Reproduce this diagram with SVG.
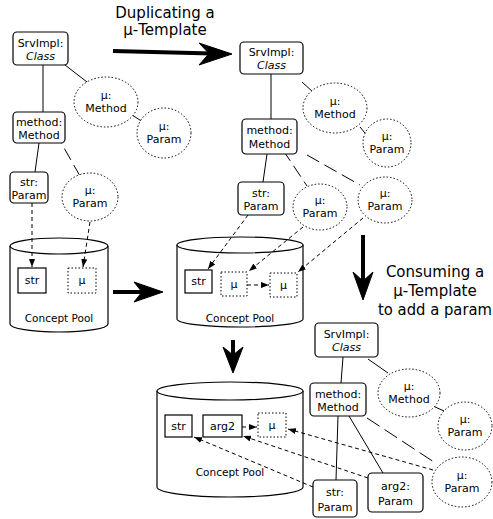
<svg xmlns="http://www.w3.org/2000/svg" width="493" height="519" viewBox="0 0 493 519">
<defs>
<style>
.bg{fill:#fff}
.box{fill:#fff;stroke:#000;stroke-width:1.2}
.dbox{fill:#fff;stroke:#000;stroke-width:1;stroke-dasharray:1.5 2}
.circ{fill:#fff;stroke:#000;stroke-width:1;stroke-dasharray:1.5 2}
.pool{fill:#fff;stroke:#000;stroke-width:1.2}
.t{font-family:"DejaVu Sans",sans-serif;font-size:11px;text-anchor:middle;fill:#000}
.it{font-style:italic}
.pt{font-family:"DejaVu Sans",sans-serif;font-size:10.5px;text-anchor:middle;fill:#000}
.title{font-family:"DejaVu Sans",sans-serif;font-size:15px;text-anchor:middle;fill:#000}
.ln{fill:none;stroke:#000;stroke-width:1}
.ld{fill:none;stroke:#000;stroke-width:1;stroke-dasharray:13 6}
.ar{fill:none;stroke:#000;stroke-width:1;stroke-dasharray:4 3;marker-end:url(#ah)}
.thick{fill:none;stroke:#000;stroke-width:4}
.head{fill:#000;stroke:#000;stroke-width:1;stroke-linejoin:round}
</style>
<marker id="ah" viewBox="0 0 8 6" refX="8" refY="3" markerWidth="8" markerHeight="6" markerUnits="userSpaceOnUse" orient="auto">
<path d="M0,0 L8,3 L0,6 Z" fill="#000"/>
</marker>
</defs>
<rect class="bg" x="0" y="0" width="493" height="519"/>

<!-- titles -->
<g id="label-duplicating">
<text class="title" x="165" y="18">Duplicating a</text>
<text class="title" x="165" y="35">μ-Template</text>
</g>
<g id="label-consuming">
<text class="title" x="435" y="277">Consuming a</text>
<text class="title" x="435" y="296">μ-Template</text>
<text class="title" x="435" y="315" textLength="114" lengthAdjust="spacingAndGlyphs">to add a param</text>
</g>

<!-- pools -->
<g id="p1-pool">
<path class="pool" d="M10,246 V324 A49,8 0 0 0 108,324 V246"/>
<ellipse class="pool" cx="59" cy="246" rx="49" ry="8"/>
<text class="pt" x="59" y="322">Concept Pool</text>
</g>
<g id="p2-pool">
<path class="pool" d="M177,245 V319 A63,8 0 0 0 303,319 V245"/>
<ellipse class="pool" cx="240" cy="245" rx="63" ry="8"/>
<text class="pt" x="240" y="322">Concept Pool</text>
</g>
<g id="p3-pool">
<path class="pool" d="M157,391 V487 A73,10 0 0 0 303,487 V391"/>
<ellipse class="pool" cx="230" cy="391" rx="73" ry="9"/>
<text class="pt" x="230" y="476">Concept Pool</text>
</g>

<!-- connectors -->
<g id="connectors">
<!-- panel 1 -->
<path class="ln" d="M43,65 V112"/>
<path class="ln" d="M65,65 L87,82"/>
<path class="ln" d="M132,115 L143,122"/>
<path class="ln" d="M39,143 L35,172"/>
<path class="ld" d="M55,132 L80,176"/>
<path class="ar" d="M32,203 V267"/>
<path class="ar" d="M90,222 L83,267"/>
<!-- panel 2 -->
<path class="ln" d="M271,74 V119"/>
<path class="ln" d="M302,82 L313,92"/>
<path class="ln" d="M360,127 L370,139"/>
<path class="ln" d="M267,154 L263,182"/>
<path class="ld" d="M283,150 L307,186"/>
<path class="ld" d="M307,155 L360,185" style="stroke-dasharray:14 6"/>
<path class="ar" d="M248,215 L208,269"/>
<path class="ar" d="M303,227 L249,271"/>
<path class="ar" d="M363,218 L298,272"/>
<path class="ar" d="M247,285 L269,285"/>
<!-- panel 3 -->
<path class="ln" d="M343,357 L341,383"/>
<path class="ln" d="M368,359 L388,373"/>
<path class="ln" d="M433,406 L444,411"/>
<path class="ln" d="M338,416 L336,480"/>
<path class="ln" d="M349,416 L383,473"/>
<path class="ld" d="M367,418 L437,464" style="stroke-dasharray:15 6"/>
<path class="ar" d="M433,470 L288,429"/>
<path class="ar" d="M368,478 L243,436"/>
<path class="ar" d="M313,487 L194,437"/>
<path class="ar" d="M242,427 L257,427"/>
</g>

<!-- transition arrows -->
<g id="transitions">
<path class="thick" d="M113,51 L212,53.5"/>
<path class="head" d="M232,54 L199,43 L209,53.5 L199,65 Z"/>
<path class="thick" d="M113,292 L145,292"/>
<path class="head" d="M163,292 L134,282 L142,292 L134,302 Z"/>
<path class="thick" d="M233,340 V360"/>
<path class="head" d="M233,373 L223,347 L233,355 L243,347 Z"/>
<path class="thick" d="M363,235 V285"/>
<path class="head" d="M363,300 L353,272 L363,281 L373,272 Z"/>
</g>

<!-- panel 1 nodes -->
<g id="p1-srvimpl"><rect class="box" x="13" y="32" width="55" height="33" rx="4"/><text class="t" x="40.5" y="47">SrvImpl:</text><text class="t it" x="40.5" y="60">Class</text></g>
<g id="p1-mu-method"><ellipse class="circ" cx="106" cy="102" rx="32" ry="25"/><text class="t" x="106" y="99">μ:</text><text class="t" x="106" y="112">Method</text></g>
<g id="p1-mu-param-a"><ellipse class="circ" cx="164" cy="133" rx="27" ry="25"/><text class="t" x="164" y="130">μ:</text><text class="t" x="164" y="143">Param</text></g>
<g id="p1-method"><rect class="box" x="13" y="112" width="52" height="31" rx="4"/><text class="t" x="39" y="126">method:</text><text class="t" x="39" y="139">Method</text></g>
<g id="p1-str-param"><rect class="box" x="10" y="172" width="38" height="31" rx="4"/><text class="t" x="29" y="186">str:</text><text class="t" x="29" y="199">Param</text></g>
<g id="p1-mu-param-b"><ellipse class="circ" cx="90" cy="197" rx="28" ry="24"/><text class="t" x="90" y="194">μ:</text><text class="t" x="90" y="207">Param</text></g>
<g id="p1-pool-str"><rect class="box" x="18" y="268" width="28" height="25"/><text class="t" x="32" y="284">str</text></g>
<g id="p1-pool-mu"><rect class="dbox" x="68" y="268" width="28" height="25"/><text class="t" x="82" y="284">μ</text></g>

<!-- panel 2 nodes -->
<g id="p2-srvimpl"><rect class="box" x="240" y="42" width="63" height="32" rx="4"/><text class="t" x="271.5" y="56">SrvImpl:</text><text class="t it" x="271.5" y="69">Class</text></g>
<g id="p2-mu-method"><ellipse class="circ" cx="335" cy="108" rx="32" ry="25"/><text class="t" x="335" y="105">μ:</text><text class="t" x="335" y="118">Method</text></g>
<g id="p2-mu-param-a"><ellipse class="circ" cx="387" cy="143" rx="24" ry="24"/><text class="t" x="387" y="140">μ:</text><text class="t" x="387" y="153">Param</text></g>
<g id="p2-method"><rect class="box" x="242" y="119" width="55" height="35" rx="4"/><text class="t" x="269.5" y="134">method:</text><text class="t" x="269.5" y="148">Method</text></g>
<g id="p2-str-param"><rect class="box" x="238" y="182" width="46" height="33" rx="4"/><text class="t" x="261" y="197">str:</text><text class="t" x="261" y="210">Param</text></g>
<g id="p2-mu-param-b"><ellipse class="circ" cx="320" cy="207" rx="27" ry="23"/><text class="t" x="320" y="204">μ:</text><text class="t" x="320" y="217">Param</text></g>
<g id="p2-mu-param-c"><ellipse class="circ" cx="385" cy="200" rx="27" ry="23"/><text class="t" x="385" y="197">μ:</text><text class="t" x="385" y="210">Param</text></g>
<g id="p2-pool-str"><rect class="box" x="185" y="270" width="27" height="23"/><text class="t" x="198.5" y="285">str</text></g>
<g id="p2-pool-mu-a"><rect class="dbox" x="221" y="272" width="26" height="24"/><text class="t" x="234" y="288">μ</text></g>
<g id="p2-pool-mu-b"><rect class="dbox" x="270" y="273" width="27" height="24"/><text class="t" x="283.5" y="289">μ</text></g>

<!-- panel 3 nodes -->
<g id="p3-srvimpl"><rect class="box" x="315" y="323" width="63" height="34" rx="4"/><text class="t" x="346.5" y="338">SrvImpl:</text><text class="t it" x="346.5" y="351">Class</text></g>
<g id="p3-mu-method"><ellipse class="circ" cx="409" cy="393" rx="31" ry="24"/><text class="t" x="409" y="390">μ:</text><text class="t" x="409" y="403">Method</text></g>
<g id="p3-mu-param-a"><ellipse class="circ" cx="465" cy="426" rx="27" ry="24"/><text class="t" x="465" y="423">μ:</text><text class="t" x="465" y="436">Param</text></g>
<g id="p3-method"><rect class="box" x="310" y="383" width="56" height="33" rx="4"/><text class="t" x="338" y="398">method:</text><text class="t" x="338" y="411">Method</text></g>
<g id="p3-str-param"><rect class="box" x="313" y="480" width="44" height="37" rx="4"/><text class="t" x="335" y="496">str:</text><text class="t" x="335" y="511">Param</text></g>
<g id="p3-arg2-param"><rect class="box" x="368" y="473" width="55" height="39" rx="4"/><text class="t" x="395.5" y="490">arg2:</text><text class="t" x="395.5" y="505">Param</text></g>
<g id="p3-mu-param-b"><ellipse class="circ" cx="462" cy="482" rx="30" ry="25"/><text class="t" x="462" y="479">μ:</text><text class="t" x="462" y="492">Param</text></g>
<g id="p3-pool-str"><rect class="box" x="165" y="415" width="27" height="22"/><text class="t" x="178.5" y="430">str</text></g>
<g id="p3-pool-arg2"><rect class="box" x="203" y="415" width="39" height="22"/><text class="t" x="222.5" y="430">arg2</text></g>
<g id="p3-pool-mu"><rect class="dbox" x="258" y="413" width="28" height="24"/><text class="t" x="272" y="429">μ</text></g>
</svg>
